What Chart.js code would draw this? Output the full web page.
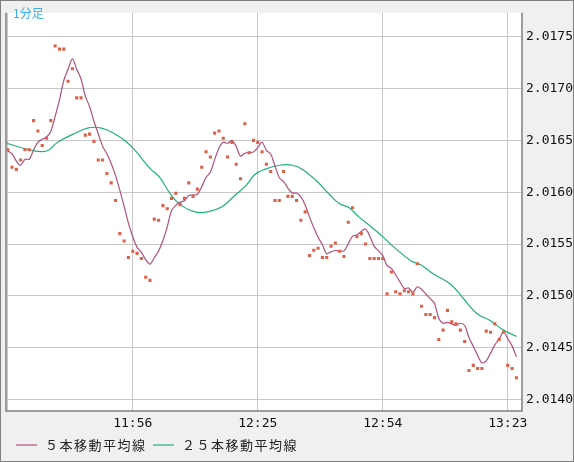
<!DOCTYPE html>
<html><head><meta charset="utf-8">
<script src="https://cdn.jsdelivr.net/npm/chart.js@4"></script>
<style>
html,body{margin:0;padding:0;background:#f0f0f0;}
#wrap{position:relative;width:572px;height:460px;border:1px solid #808080;background:#f0f0f0;}
#title{position:absolute;left:12px;top:3px;font:12px "Noto Sans CJK JP",sans-serif;color:#3ab0e6;}
</style></head><body>
<div id="wrap"><canvas id="c" width="572" height="460"></canvas><div id="title">1分足</div></div>
<script>
const closes=[2.01641,2.01624,2.01622,2.01631,2.01641,2.01641,2.01669,2.01659,2.01645,2.01652,
2.01669,2.01741,2.01738,2.01738,2.01707,2.01719,2.01691,2.01691,2.01655,2.01656,
2.01649,2.01631,2.01631,2.01618,2.01609,2.01592,2.01560,2.01553,2.01537,2.01543,
2.01541,2.01536,2.01518,2.01515,2.01574,2.01573,2.01587,2.01584,2.01594,2.01599,
2.01588,2.01594,2.01609,2.01596,2.01603,2.01624,2.01639,2.01634,2.01657,2.01659,
2.01652,2.01634,2.01648,2.01627,2.01613,2.01666,2.01638,2.01650,2.01648,2.01639,
2.01627,2.01620,2.01592,2.01592,2.01620,2.01596,2.01596,2.01592,2.01573,2.01581,
2.01539,2.01544,2.01546,2.01537,2.01537,2.01548,2.01551,2.01543,2.01538,2.01571,
2.01585,2.01557,2.01560,2.01550,2.01536,2.01536,2.01536,2.01536,2.01502,2.01523,
2.01504,2.01502,2.01505,2.01504,2.01502,2.01531,2.01490,2.01482,2.01482,2.01479,
2.01458,2.01467,2.01486,2.01475,2.01473,2.01467,2.01456,2.01428,2.01433,2.01430,
2.01430,2.01466,2.01465,2.01473,2.01458,2.01465,2.01433,2.01430,2.01421];
const ma5Start=[2.01640,2.01637,2.01630,2.01626];
const ma25X=[-0.5,0,6,9.2,11.5,15.2,18.7,21.5,24.5,27.7,29.6,33,35.3,37.6,40,43.4,46.4,49.7,52.7,55.4,57.3,59.6,63,66.1,68.4,71.6,74.6,76.9,79.2,81.5,84.5,87.3,89.6,93.5,95.8,98.8,102.8,105.8,108.8,112,115,118];
const ma25Y=[2.01649,2.01647,2.01640,2.01640,2.01648,2.01656,2.01662,2.01662,2.01657,2.01648,2.01640,2.01623,2.01614,2.01599,2.01588,2.01581,2.01581,2.01586,2.01597,2.01607,2.01617,2.01622,2.01626,2.01626,2.01622,2.01611,2.01598,2.01589,2.01585,2.01576,2.01566,2.01556,2.01547,2.01534,2.01530,2.01521,2.01511,2.01497,2.01483,2.01476,2.01467,2.01461];
const xTickPos=[0,29,58,87,116];
const xTickLabels=['','11:56','12:25','12:54','13:23'];
const yTicks=[2.0140,2.0145,2.0150,2.0155,2.0160,2.0165,2.0170,2.0175];
const legendLabels=['５本移動平均線','２５本移動平均線'];

const pts=closes.map((v,i)=>({x:i,y:v}));
const ma5=closes.map((v,i)=>{
  if(i<4) return {x:i,y:ma5Start[i]};
  let s=0;for(let k=i-4;k<=i;k++)s+=closes[k];
  return {x:i,y:s/5};
});
const ma25=ma25X.map((x,i)=>({x:x,y:ma25Y[i]}));

const frame={id:'frame',afterDraw(c){const a=c.chartArea,g=c.ctx;g.save();g.strokeStyle='#808080';g.lineWidth=1.5;
g.beginPath();g.moveTo(a.left,a.top);g.lineTo(a.left,a.bottom);g.lineTo(a.right,a.bottom);g.lineTo(a.right,a.top);g.stroke();
// legend
const ds=c.data.datasets;const xs=[15,152];const y=444;
g.font='13px "Noto Sans CJK JP"';g.textBaseline='middle';g.fillStyle='#222';
for(let i=0;i<2;i++){g.strokeStyle=ds[i].borderColor;g.lineWidth=1.2;g.beginPath();g.moveTo(xs[i],y);g.lineTo(xs[i]+21,y);g.stroke();
  let tx=xs[i]+29;for(const ch of legendLabels[i]){g.fillText(ch,tx,y);tx+=14.5;}}
g.restore();}};
const bg={id:'bg',beforeDraw(c){const a=c.chartArea,g=c.ctx;g.save();g.fillStyle='#fff';g.fillRect(a.left,a.top,a.right-a.left,a.bottom-a.top);g.restore();}};

new Chart(document.getElementById('c'),{
  data:{datasets:[
    {type:'line',label:legendLabels[0],data:ma5,borderColor:'#b0507f',borderWidth:1.2,pointRadius:0,tension:0.3,order:2},
    {type:'line',label:legendLabels[1],data:ma25,borderColor:'#22b07a',borderWidth:1.2,pointRadius:0,tension:0.4,order:3},
    {type:'scatter',label:'close',data:pts,backgroundColor:'#d9624a',borderWidth:0,pointStyle:'rect',pointRadius:2.2,order:1}
  ]},
  options:{animation:false,responsive:false,
    layout:{padding:{left:5,top:0,right:0,bottom:26}},
    plugins:{tooltip:{enabled:false},legend:{display:false}},
    scales:{
      x:{type:'linear',min:-0.4,max:119.3,
        afterBuildTicks:s=>{s.ticks=xTickPos.map(v=>({value:v}));},
        afterFit:s=>{s.height=24;},
        ticks:{autoSkip:false,maxRotation:0,color:'#111',font:{family:'"DejaVu Sans Mono"',size:13},padding:5,
          callback:(v)=>xTickLabels[xTickPos.indexOf(v)]},
        grid:{color:'#c8c8c8',drawTicks:false},border:{display:false}},
      y:{position:'right',min:2.01389,max:2.01773,
        afterBuildTicks:s=>{s.ticks=yTicks.map(v=>({value:v}));},
        afterFit:s=>{s.width=51;},
        ticks:{color:'#111',font:{family:'"DejaVu Sans Mono"',size:13},padding:4,callback:v=>v.toFixed(4)},
        grid:{color:'#c8c8c8',drawTicks:false},border:{display:false}}
    }},
  plugins:[bg,frame]
});
</script></body></html>
